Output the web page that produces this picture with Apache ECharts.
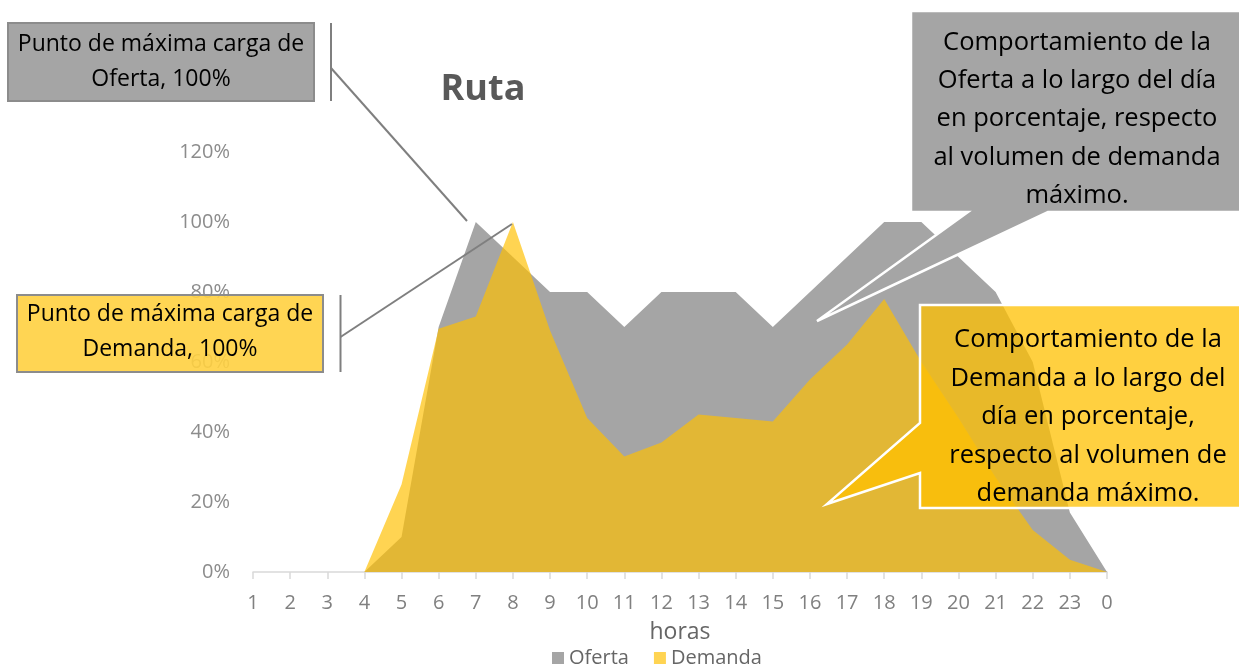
<!DOCTYPE html>
<html>
<head>
<meta charset="utf-8">
<script src="https://cdn.jsdelivr.net/npm/echarts@6/dist/echarts.min.js"></script>
<style>
  html, body { margin: 0; padding: 0; background: #ffffff; }
  #chart { width: 1239px; height: 664px; }
</style>
</head>
<body>
<div id="chart"></div>
<script>
// ---- Data ----
const categories = ['1','2','3','4','5','6','7','8','9','10','11','12','13','14','15','16','17','18','19','20','21','22','23','0'];
const oferta  = [0, 0, 0, 0, 0.10, 0.70, 1.00, 0.90, 0.80, 0.80, 0.70, 0.80, 0.80, 0.80, 0.70, 0.80, 0.90, 1.00, 1.00, 0.90, 0.80, 0.60, 0.17, 0];
const demanda = [0, 0, 0, 0, 0.25, 0.695, 0.73, 1.00, 0.69, 0.44, 0.33, 0.37, 0.45, 0.44, 0.43, 0.55, 0.65, 0.78, 0.60, 0.44, 0.27, 0.12, 0.035, 0];
const yTicks = [0, 0.2, 0.4, 0.6, 0.8, 1.0, 1.2];
const seriesNames = ['Oferta', 'Demanda'];
const titleText = 'Ruta';
const xName = 'horas';
const noteOferta = 'Punto de máxima carga de\nOferta, 100%';
const noteDemanda = 'Punto de máxima carga de\nDemanda, 100%';
const calloutOferta = 'Comportamiento de la\nOferta a lo largo del día\nen porcentaje, respecto\nal volumen de demanda\nmáximo.';
const calloutDemanda = 'Comportamiento de la\nDemanda a lo largo del\ndía en porcentaje,\nrespecto al volumen de\ndemanda máximo.';

const FONT = '"Open Sans", "Noto Sans", sans-serif';
const GRAY = '#A5A5A5';
const YELLOW = '#FFC000';

const chart = echarts.init(document.getElementById('chart'), null, { renderer: 'canvas' });

const option = {
  animation: false,
  backgroundColor: '#ffffff',
  textStyle: { fontFamily: FONT },
  grid: { left: 253, right: 132, top: 152, bottom: 92, containLabel: false },
  legend: {
    left: 547, top: 643,
    itemWidth: 12, itemHeight: 12, itemGap: 25,
    icon: 'rect',
    textStyle: { fontFamily: FONT, fontSize: 20, color: '#666666' },
    data: [
      { name: seriesNames[0], itemStyle: { color: GRAY } },
      { name: seriesNames[1], itemStyle: { color: 'rgba(255,192,0,0.68)' } }
    ]
  },
  xAxis: {
    type: 'category',
    data: categories,
    boundaryGap: false,
    name: xName,
    nameLocation: 'middle',
    nameGap: 49,
    nameTextStyle: { fontFamily: FONT, fontSize: 23, color: '#666666' },
    axisLine: { show: true, lineStyle: { color: '#D9D9D9', width: 1.5 } },
    axisTick: { show: true, length: 7, lineStyle: { color: '#D9D9D9', width: 1.5 } },
    axisLabel: { interval: 0, margin: 21, fontFamily: FONT, fontSize: 20, color: '#808080' },
    splitLine: { show: false }
  },
  yAxis: {
    type: 'value',
    min: 0, max: 1.2, interval: 0.2,
    axisLine: { show: false },
    axisTick: { show: false },
    splitLine: { show: false },
    axisLabel: {
      margin: 23, fontFamily: FONT, fontSize: 20, color: '#8C8C8C',
      formatter: v => Math.round(v * 100) + '%'
    }
  },
  series: [
    {
      name: seriesNames[0], type: 'line', data: oferta,
      symbol: 'none', color: GRAY,
      lineStyle: { width: 0, opacity: 0 },
      areaStyle: { color: GRAY, opacity: 1 },
      z: 2
    },
    {
      name: seriesNames[1], type: 'line', data: demanda,
      symbol: 'none', color: YELLOW,
      lineStyle: { width: 0, opacity: 0 },
      areaStyle: { color: YELLOW, opacity: 0.68 },
      z: 3
    }
  ],
  graphic: [
    // Title
    { type: 'text', z: 50, style: { text: titleText, x: 483, y: 90, textAlign: 'center', textVerticalAlign: 'middle',
      font: 'bold 36px ' + FONT, fill: '#595959' } },
    // Oferta note box
    { type: 'rect', z: 60, shape: { x: 8, y: 23, width: 306, height: 78 },
      style: { fill: GRAY, stroke: '#8C8C8C', lineWidth: 2 } },
    { type: 'text', z: 61, style: { text: noteOferta, x: 161, y: 62, textAlign: 'center', textVerticalAlign: 'middle',
      font: '23px ' + FONT, fill: '#000000', lineHeight: 35 } },
    { type: 'line', z: 60, shape: { x1: 331, y1: 23, x2: 331, y2: 101 }, style: { stroke: '#7F7F7F', lineWidth: 2 } },
    { type: 'line', z: 60, shape: { x1: 331, y1: 68, x2: 467, y2: 221 }, style: { stroke: '#7F7F7F', lineWidth: 2 } },
    // Demanda note box
    { type: 'rect', z: 60, shape: { x: 17, y: 295, width: 306, height: 77 },
      style: { fill: 'rgba(255,208,64,0.9)', stroke: '#8C8C8C', lineWidth: 2 } },
    { type: 'text', z: 61, style: { text: noteDemanda, x: 170, y: 332, textAlign: 'center', textVerticalAlign: 'middle',
      font: '23px ' + FONT, fill: '#000000', lineHeight: 35 } },
    { type: 'line', z: 60, shape: { x1: 340.5, y1: 295, x2: 340.5, y2: 372 }, style: { stroke: '#7F7F7F', lineWidth: 2 } },
    { type: 'line', z: 60, shape: { x1: 340.5, y1: 337, x2: 512, y2: 224 }, style: { stroke: '#7F7F7F', lineWidth: 2 } },
    // Oferta callout
    { type: 'polygon', z: 70, shape: { points: [[911, 11], [1241, 11], [1241, 212], [1048, 212], [817, 321], [968, 212], [911, 212]] },
      style: { fill: GRAY, stroke: '#ffffff', lineWidth: 2.5, lineJoin: 'miter' } },
    { type: 'text', z: 71, style: { text: calloutOferta, x: 1077, y: 119, textAlign: 'center', textVerticalAlign: 'middle',
      font: '25.5px ' + FONT, fill: '#000000', lineHeight: 38.3 } },
    // Demanda callout
    { type: 'polygon', z: 70, shape: { points: [[920, 305], [1241, 305], [1241, 508], [920, 508], [920, 473], [827, 504], [920, 423]] },
      style: { fill: 'rgba(255,192,0,0.75)', stroke: '#ffffff', lineWidth: 2.5, lineJoin: 'miter' } },
    { type: 'text', z: 71, style: { text: calloutDemanda, x: 1088, y: 417, textAlign: 'center', textVerticalAlign: 'middle',
      font: '25.5px ' + FONT, fill: '#000000', lineHeight: 38.5 } }
  ]
};

chart.setOption(option);
</script>
</body>
</html>
